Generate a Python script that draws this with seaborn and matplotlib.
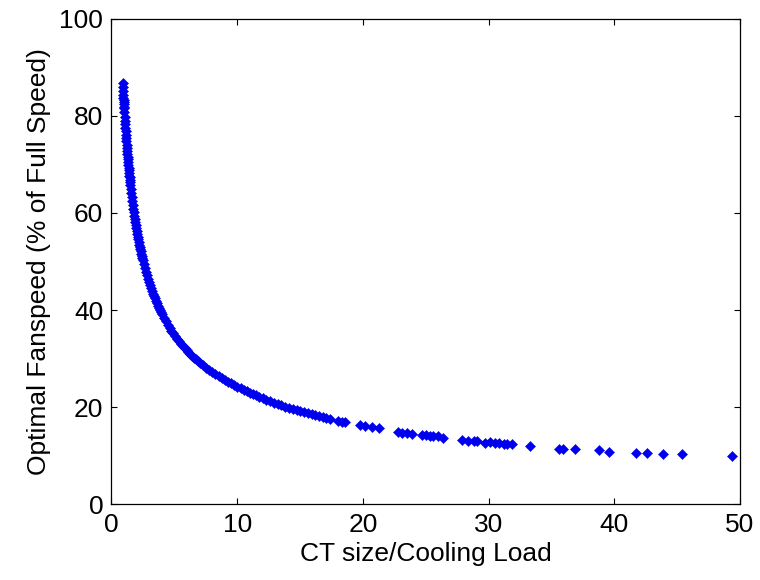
import matplotlib
matplotlib.use("Agg")
import matplotlib.pyplot as plt
import seaborn as sns
import pandas as pd

# CT size / cooling load (x) and optimal fan speed, % of full speed (y)
ratio = [
    0.887, 0.905, 0.923, 0.940,
    0.95, 0.96, 0.97, 0.98, 0.99, 1.00,
    1.02, 1.04, 1.06, 1.08, 1.10, 1.12, 1.14, 1.16, 1.18, 1.20,
    1.22, 1.24, 1.26, 1.28, 1.30, 1.32, 1.34, 1.36, 1.38, 1.40,
    1.42, 1.44, 1.46, 1.48, 1.50,
    1.54, 1.58, 1.62, 1.66, 1.70, 1.74, 1.78, 1.82, 1.86, 1.90,
    1.94, 1.98, 2.02, 2.06, 2.10, 2.14, 2.18, 2.22, 2.26, 2.30,
    2.34, 2.38, 2.42, 2.46, 2.50,
    2.58, 2.66, 2.74, 2.82, 2.90, 2.98, 3.06, 3.14, 3.22, 3.30,
    3.38, 3.46, 3.54, 3.62, 3.70, 3.78, 3.86, 3.94, 4.02,
    4.17, 4.32, 4.47, 4.62, 4.77, 4.92, 5.07, 5.22, 5.37, 5.52,
    5.67, 5.82, 5.97, 6.12, 6.27, 6.42, 6.57, 6.72, 6.87, 7.02,
    7.27, 7.52, 7.77, 8.02, 8.27, 8.52, 8.77, 9.02, 9.27, 9.52,
    9.77, 10.02, 10.27, 10.52, 10.77, 11.02, 11.27, 11.52, 11.77, 12.02,
    12.32, 12.62, 12.92, 13.22, 13.52, 13.82, 14.12, 14.42, 14.72, 15.02,
    15.32, 15.62, 15.92, 16.22, 16.52, 16.82, 17.10, 17.40,
    18.03, 18.33, 18.59, 19.78, 20.18, 20.72, 21.30,
    22.8, 23.1, 23.5, 23.9, 24.7, 25.0, 25.3, 25.6, 26.0, 26.4,
    27.9, 28.4, 28.8, 29.1, 29.7, 30.1, 30.5, 30.8, 31.2, 31.5, 31.9,
    33.3, 35.6, 35.9, 36.9, 38.8, 39.6, 41.7, 42.6, 43.9, 45.4, 49.4,
]

fanspeed = [
    86.8, 85.9, 85.0, 84.2,
    83.7, 83.3, 82.8, 82.4, 81.9, 81.5,
    80.7, 79.8, 79.0, 78.3, 77.5, 76.8, 76.1, 75.4, 74.7, 74.0,
    73.4, 72.8, 72.2, 71.6, 71.0, 70.4, 69.9, 69.3, 68.8, 68.3,
    67.7, 67.3, 66.8, 66.3, 65.8,
    64.9, 64.0, 63.2, 62.4, 61.6, 60.9, 60.1, 59.4, 58.8, 58.1,
    57.5, 56.9, 56.3, 55.7, 55.1, 54.6, 54.0, 53.5, 53.0, 52.5,
    52.1, 51.6, 51.2, 50.7, 50.3,
    49.5, 48.7, 47.9, 47.2, 46.5, 45.8, 45.2, 44.6, 44.0, 43.4,
    42.9, 42.4, 41.9, 41.4, 40.9, 40.4, 40.0, 39.6, 39.1,
    38.4, 37.7, 37.0, 36.4, 35.8, 35.2, 34.6, 34.1, 33.6, 33.1,
    32.7, 32.2, 31.8, 31.4, 31.0, 30.6, 30.2, 29.9, 29.5, 29.2,
    28.7, 28.1, 27.7, 27.2, 26.8, 26.4, 26.0, 25.6, 25.2, 24.9,
    24.5, 24.2, 23.9, 23.6, 23.3, 23.0, 22.7, 22.5, 22.2, 21.9,
    21.5, 21.2, 20.9, 20.6, 20.4, 20.1, 19.9, 19.7, 19.4, 19.2,
    19.0, 18.8, 18.6, 18.4, 18.2, 18.0, 17.8, 17.6,
    17.2, 17.0, 16.9, 16.3, 16.1, 15.9, 15.7,
    15.0, 14.8, 14.7, 14.6, 14.4, 14.2, 14.0, 14.0, 14.0, 13.7,
    13.3, 13.0, 13.0, 13.0, 12.7, 12.8, 12.7, 12.7, 12.5, 12.5, 12.5,
    12.1, 11.5, 11.5, 11.5, 11.2, 10.9, 10.6, 10.6, 10.3, 10.3, 10.0,
]

x_ticks = [0, 10, 20, 30, 40, 50]
y_ticks = [0, 20, 40, 60, 80, 100]

df = pd.DataFrame({"ratio": ratio, "fanspeed": fanspeed})

sns.set_style("ticks")
plt.rcParams["font.family"] = ["Liberation Sans", "DejaVu Sans"]
plt.rcParams["text.color"] = "black"
plt.rcParams["axes.labelcolor"] = "black"

fig = plt.figure(figsize=(7.6, 5.8), dpi=100)
ax = fig.add_axes([0.1467, 0.1302, 0.8270, 0.8378])

sns.scatterplot(data=df, x="ratio", y="fanspeed", ax=ax, color="#0000ee",
                marker="D", s=26, linewidth=0.4, edgecolor="#0000ee", legend=False)

ax.set_xlim(0, 50)
ax.set_ylim(0, 100)
ax.set_xticks(x_ticks)
ax.set_yticks(y_ticks)
ax.tick_params(direction="in", length=4, width=0.8, top=True, right=True,
               labelsize=19, colors="black", pad=6)
for sp in ax.spines.values():
    sp.set_visible(True)
    sp.set_color("black")
    sp.set_linewidth(0.9)
ax.set_xlabel("CT size/Cooling Load", fontsize=19, labelpad=4, color="black")
ax.set_ylabel("Optimal Fanspeed (% of Full Speed)", fontsize=19, labelpad=6, color="black")
ax.set_facecolor("white")
fig.patch.set_facecolor("white")

fig.savefig("out.png", dpi=100, facecolor="white")
